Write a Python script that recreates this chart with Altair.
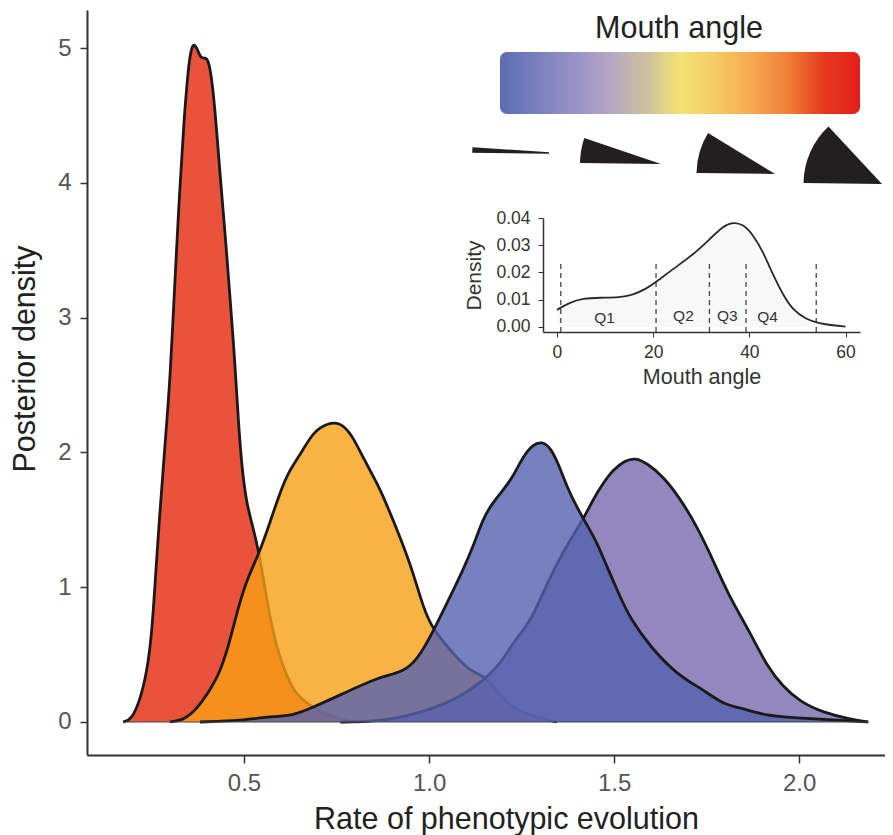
import math
import altair as alt
import pandas as pd

red_x = [.173,.196,.219,.237,.250,.259,.271,.282,.291,.300,.311,.318,.325,.332,.338,.345,.352,.359,.366,.374,.384,.395,.403,.410,.417,.426,.435,.444,.453,.462,.471,.478,.485,.494,.507,.521,.541,.554,.570,.588,.602,.633,.687,.740,.813]
red_y = [0,.015,.163,.363,.631,1.00,1.50,1.89,2.22,2.54,3.15,3.52,3.89,4.19,4.47,4.71,4.91,5.01,5.03,4.99,4.92,4.93,4.91,4.82,4.67,4.39,4.07,3.78,3.48,3.15,2.83,2.54,2.22,1.89,1.62,1.48,1.25,1.03,.78,.56,.44,.215,.104,.03,0]
orange_x = [.300,.336,.360,.381,.426,.453,.476,.503,.541,.570,.597,.619,.651,.678,.705,.746,.773,.795,.822,.860,.886,.922,.957,.984,1.011,1.065,1.103,1.157,1.173,1.219,1.281,1.346]
orange_y = [0,.015,.067,.126,.31,.51,.76,1.03,1.25,1.48,1.70,1.85,1.98,2.11,2.19,2.23,2.19,2.11,1.96,1.77,1.61,1.37,1.11,.85,.68,.51,.39,.33,.26,.11,.04,0]
blue_x = [.381,.497,.562,.633,.687,.760,.860,.930,.968,1.011,1.057,1.092,1.119,1.146,1.170,1.200,1.227,1.254,1.281,1.305,1.327,1.349,1.373,1.400,1.427,1.454,1.481,1.516,1.543,1.597,1.670,1.741,1.795,1.849,1.903,1.995,2.092,2.184]
blue_y = [0,.01,.04,.045,.11,.20,.33,.37,.46,.67,.93,1.13,1.30,1.51,1.62,1.72,1.82,1.97,2.06,2.08,2.04,1.92,1.74,1.59,1.46,1.33,1.15,.93,.77,.56,.35,.24,.13,.10,.05,.03,.015,0]
purple_x = [.760,.813,.903,.976,1.049,1.103,1.157,1.200,1.232,1.273,1.308,1.346,1.381,1.416,1.443,1.470,1.497,1.530,1.557,1.589,1.633,1.678,1.724,1.759,1.795,1.822,1.868,1.914,1.957,2.003,2.065,2.138,2.187]
purple_y = [0,0,.02,.07,.14,.22,.33,.46,.61,.74,.96,1.18,1.35,1.50,1.65,1.77,1.87,1.94,1.96,1.92,1.82,1.66,1.45,1.25,1.03,.88,.66,.41,.26,.15,.07,.02,0]

inset_x = [0,2.6,5.4,8.9,13,15.8,18.6,20.6,24.1,28.3,31.7,34.5,36.6,38.7,40.7,42.8,44.9,47,49,51.8,54.6,57.4,60]
inset_y = [.0062,.0089,.0104,.0107,.0107,.0117,.0140,.0164,.0212,.0265,.0321,.0370,.0385,.0377,.034,.0278,.0191,.0117,.0062,.0027,.0012,.0005,0]
quantile_x = [.8,20.6,31.7,39.3,53.9]
q_labels = ["Q1","Q2","Q3","Q4"]
q_x = [9.9,26.3,35.4,43.8]
q_y = [.0032,.0039,.0039,.0036]

FONT = "Liberation Sans"
W, H = 798, 745
XD, YD = [0.0757, 2.232], [-0.245, 5.282]

x_enc = alt.X("x:Q", scale=alt.Scale(domain=XD, nice=False, zero=False), title="Rate of phenotypic evolution",
              axis=alt.Axis(values=[.5,1,1.5,2], format=".1f", grid=False, domainColor="#333333", domainWidth=2,
                            tickColor="#333333", tickWidth=1.5, tickSize=8, labelColor="#555555", labelFontSize=24,
                            labelFont=FONT, labelPadding=8, titleFont=FONT, titleFontSize=30.5, titleFontWeight="normal",
                            titleColor="#222222", titleX=419, titleY=73, titleBaseline="alphabetic"))
y_enc = alt.Y("y:Q", scale=alt.Scale(domain=YD, nice=False, zero=False), title="Posterior density",
              axis=alt.Axis(values=[0,1,2,3,4,5], format="d", grid=False, domainColor="#333333", domainWidth=2,
                            tickColor="#333333", tickWidth=1.5, tickSize=7, labelColor="#555555", labelFontSize=24,
                            labelFont=FONT, labelPadding=9, titleFont=FONT, titleFontSize=30.5, titleFontWeight="normal",
                            titleColor="#222222", titleX=-53, titleY=348.5, titleBaseline="alphabetic"))

layers = []
for xs, ys, col, op in [(red_x, red_y, "#E5270A", .8), (orange_x, orange_y, "#F6A014", .8),
                        (purple_x, purple_y, "#776AAE", .8), (blue_x, blue_y, "#5562B0", .8)]:
    d = pd.DataFrame({"x": xs, "y": ys})
    layers.append(alt.Chart(d).mark_area(color=col, opacity=op, interpolate="basis").encode(x=x_enc, y=y_enc))
    layers.append(alt.Chart(d).mark_line(color="#1a1a1a", strokeWidth=2.8, interpolate="basis").encode(x=x_enc, y=y_enc))
base = pd.DataFrame({"x": [min(red_x)], "x2": [max(blue_x + purple_x)], "y": [0]})
layers.append(alt.Chart(base).mark_rule(color="#444444", strokeWidth=1.2).encode(x=x_enc, x2="x2:Q", y=y_enc))
main = alt.layer(*layers)

# inset
ix = alt.X("x:Q", scale=alt.Scale(domain=[-2.9, 63], range=[456, 773], nice=False, zero=False), title="Mouth angle",
           axis=alt.Axis(orient="bottom", offset=-423, values=[0,20,40,60], format="d", grid=False, domainColor="#333333",
                         domainWidth=1.5, tickColor="#333333", tickWidth=1, tickSize=5, labelColor="#333333", labelFontSize=17.5,
                         labelFont=FONT, labelPadding=6, titleFont=FONT, titleFontSize=21.5, titleFontWeight="normal",
                         titleColor="#333333", titlePadding=6))
iy = alt.Y("y:Q", scale=alt.Scale(domain=[-0.00195, .04], range=[322, 208], nice=False, zero=False), title="Density",
           axis=alt.Axis(orient="left", offset=-456, values=[0,.01,.02,.03,.04], format=".2f", grid=False, domainColor="#333333",
                         domainWidth=1.5, tickColor="#333333", tickWidth=1, tickSize=5, labelColor="#333333", labelFontSize=17.5,
                         labelFont=FONT, labelPadding=8, titleFont=FONT, titleFontSize=21, titleFontWeight="normal",
                         titleColor="#333333", titlePadding=11))
curve = pd.DataFrame({"x": inset_x, "y": inset_y})
rules = pd.DataFrame({"x": quantile_x, "y": [-0.00195]*5, "y2": [.0243]*5})
qdf = pd.DataFrame({"x": q_x, "y": q_y, "t": q_labels})
inset = alt.layer(
    alt.Chart(curve).mark_area(color="#f8f8f8", interpolate="basis").encode(x=ix, y=iy),
    alt.Chart(rules).mark_rule(color="#444444", strokeWidth=1.3, strokeDash=[5, 4]).encode(x=ix, y=iy, y2="y2:Q"),
    alt.Chart(curve).mark_line(color="#2a2a2a", strokeWidth=1.8, interpolate="basis").encode(x=ix, y=iy),
    alt.Chart(qdf).mark_text(font=FONT, fontSize=15.5, color="#333333").encode(x=ix, y=iy, text="t:N"),
)

# colour bar, title, wedges
one = pd.DataFrame({"a": [0]})
stops = [("#5C6DB3",0),("#9C94C8",.22),("#B5A5C5",.3),("#CFC59B",.42),("#F3E374",.5),("#F6CA62",.6),("#F6A950",.7),("#F07F38",.8),("#E63A1C",.9),("#E31E1A",1)]
grad = alt.Gradient(gradient="linear", x1=0, x2=1, y1=0, y2=0,
                    stops=[alt.GradientStop(color=c, offset=o) for c, o in stops])
bar = alt.Chart(one).mark_rect(color=grad, cornerRadius=7).encode(
    x=alt.value(413), x2=alt.value(773), y=alt.value(42), y2=alt.value(104))
title = alt.Chart(one).mark_text(text="Mouth angle", font=FONT, fontSize=30.5, color="#222222").encode(
    x=alt.value(592), y=alt.value(18.5))
wedge_angles = [(270.7, 273.8), (270.7, 288.7), (270.7, 301.5), (270.7, 317.0)]
wedge_r = [76, 81, 78.5, 78.5]
wedge_pos = [(549, 153), (661, 164), (775, 174), (882, 184)]
wedge_stroke = [1.5, 0, 0, 0]
wedges = [alt.Chart(one).mark_arc(theta=math.radians(a), theta2=math.radians(b), outerRadius=r, innerRadius=0, color="#231f20",
                                  stroke="#231f20", strokeWidth=s).encode(
              x=alt.value(p[0]-87), y=alt.value(p[1]-10))
          for (a, b), r, p, s in zip(wedge_angles, wedge_r, wedge_pos, wedge_stroke)]

chart = alt.layer(main, inset, bar, title, *wedges).resolve_scale(x="independent", y="independent").properties(
    width=W, height=H, autosize="none", padding={"left": 79, "top": 2, "right": 0, "bottom": 80}, background="white"
).configure_view(stroke=None)
chart.save("out.html", embed_options={"renderer": "svg", "actions": False})
